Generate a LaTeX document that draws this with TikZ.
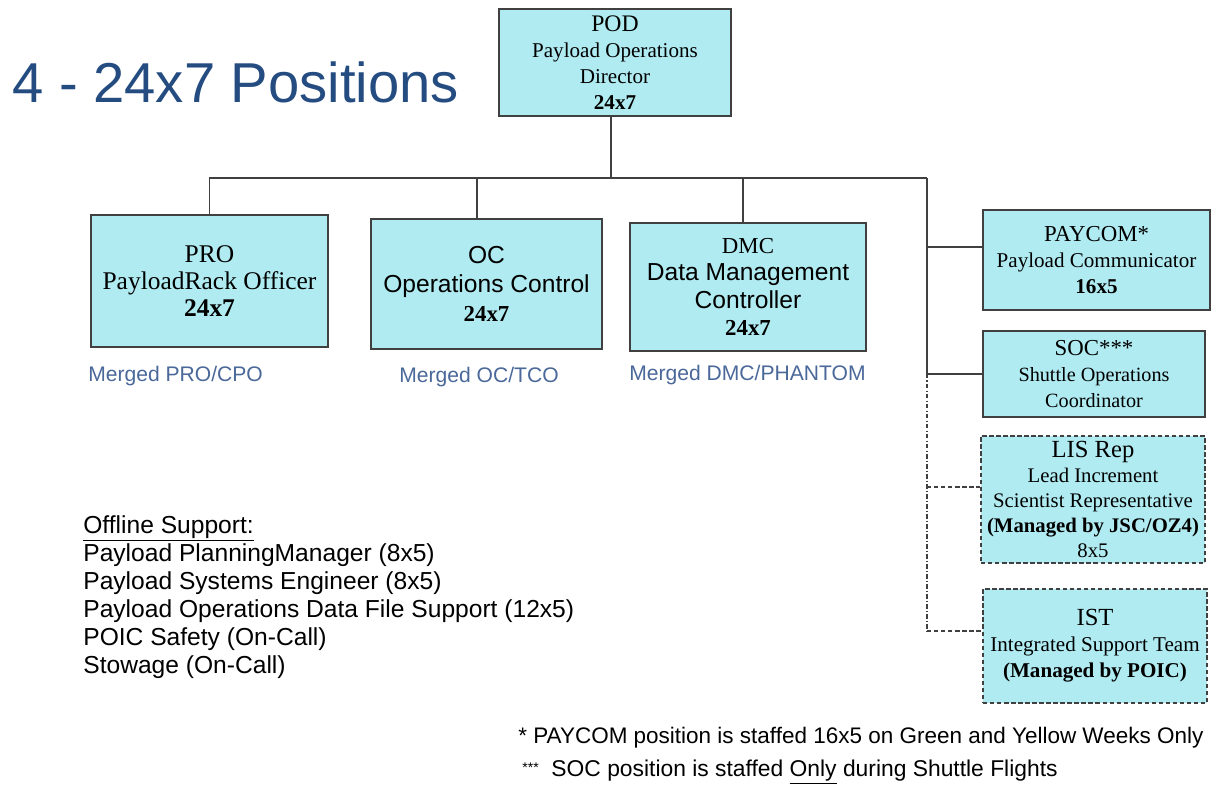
\documentclass[tikz,border=0pt]{standalone}
\usepackage{fontspec}
\setmainfont{Liberation Serif}
\setsansfont{Liberation Sans}
\usepackage{xcolor}
\definecolor{boxcyan}{HTML}{B0EBF1}
\definecolor{titleblue}{HTML}{244C80}
\definecolor{mergeblue}{HTML}{4A6899}
\definecolor{linegrey}{HTML}{404040}
\newcommand{\fs}[2]{\fontsize{#1}{#2}\selectfont}

\begin{document}
\begin{tikzpicture}[x=0.02cm,y=-0.02cm,
  posbox/.style={draw=linegrey, line width=0.8pt, fill=boxcyan, align=center, inner sep=1pt},
  offbox/.style={posbox, dash pattern=on 2.5pt off 1.5pt},
  tree/.style={draw=linegrey, line width=0.8pt},
  mergednote/.style={text=mergeblue, inner sep=0pt, font=\sffamily\fs{12}{13}}]
\useasboundingbox (0,0) rectangle (1214,786);
% title
\node[anchor=west, text=titleblue, font=\sffamily\fs{32}{36}] (title) at (6,82) {4 - 24x7 Positions};
% director
\node[posbox, minimum width=4.64cm, minimum height=2.14cm, font=\fs{12}{14.7}] (pod) at (615,62.5)
  {{\fs{13.5}{14.7}POD}\\Payload Operations\\Director\\\textbf{24x7}};
% 24x7 positions
\node[posbox, minimum width=4.74cm, minimum height=2.64cm, font=\fs{14.5}{15.6}] (pro) at (209.5,281)
  {PRO\\PayloadRack Officer\\\textbf{24x7}};
\node[posbox, minimum width=4.62cm, minimum height=2.6cm, font=\fs{13}{16.5}] (oc) at (486.5,284)
  {\sffamily\fs{14}{16.5}OC\\\sffamily\fs{14}{16.5}Operations Control\\\textbf{24x7}};
\node[posbox, minimum width=4.72cm, minimum height=2.56cm, font=\fs{13}{15.6}] (dmc) at (748,287)
  {DMC\\\sffamily\fs{14}{15.6}Data Management\\\sffamily\fs{14}{15.6}Controller\\\textbf{24x7}};
\node[mergednote, anchor=west] (pronote) at (88,376) {Merged PRO/CPO};
\node[mergednote, anchor=west] (ocnote) at (399,377) {Merged OC/TCO};
\node[mergednote, anchor=west] (dmcnote) at (629,375) {Merged DMC/PHANTOM};
% other positions
\node[posbox, minimum width=4.54cm, minimum height=2.0cm, font=\fs{12}{14.6}] (paycom) at (1096.5,260)
  {{\fs{13}{14.6}PAYCOM*}\\Payload Communicator\\\textbf{16x5}};
\node[posbox, minimum width=4.44cm, minimum height=1.72cm, font=\fs{11.5}{15}] (soc) at (1094,374)
  {{\fs{13}{15}SOC***}\\Shuttle Operations\\Coordinator};
\node[offbox, minimum width=4.48cm, minimum height=2.54cm, font=\fs{11.8}{14.3}] (lis) at (1093,499.5)
  {{\fs{14}{14.3}LIS Rep}\\Lead Increment\\Scientist Representative\\\textbf{(Managed by JSC/OZ4)}\\8x5};
\node[offbox, minimum width=4.48cm, minimum height=2.28cm, font=\fs{12}{14.8}] (ist) at (1095,646)
  {{\fs{14}{14.8}IST}\\Integrated Support Team\\\textbf{(Managed by POIC)}};
% tree
\coordinate (busL) at (209,178);
\coordinate (busR) at (927,178);
\coordinate (podtap) at ([xshift=-0.08cm]pod.south);
\coordinate (octap) at ([xshift=-0.19cm]oc.north);
\coordinate (dmctap) at ([xshift=-0.1cm]dmc.north);
\coordinate (paycomin) at ([yshift=0.26cm]paycom.west);
\coordinate (lisin) at ([yshift=0.25cm]lis.west);
\coordinate (istin) at ([yshift=0.3cm]ist.west);
\draw[tree] (podtap) -- (podtap |- busL);
\draw[tree] (busL) -- (busR);
\draw[tree] (pro.north) -- (pro.north |- busL);
\draw[tree] (octap) -- (octap |- busL);
\draw[tree] (dmctap) -- (dmctap |- busL);
\draw[tree] (busR) -- (busR |- soc.west);
\draw[tree] (busR |- paycomin) -- (paycomin);
\draw[tree] (busR |- soc.west) -- (soc.west);
\draw[tree, dash pattern=on 2.5pt off 1.2pt on 0.8pt off 1.2pt] (busR |- soc.west) -- (busR |- istin);
\draw[tree, dash pattern=on 2.5pt off 1.5pt] (busR |- lisin) -- (lisin);
\draw[tree, dash pattern=on 2.5pt off 1.5pt] (busR |- istin) -- (istin);
% offline support
\node[anchor=north west, align=left, inner sep=0pt, font=\sffamily\fs{14}{16}] (offline) at (83,515)
  {\underline{Offline Support:}\\
   Payload PlanningManager (8x5)\\
   Payload Systems Engineer (8x5)\\
   Payload Operations Data File Support (12x5)\\
   POIC Safety (On-Call)\\
   Stowage (On-Call)};
% footnotes
\node[anchor=west, inner sep=0pt, font=\sffamily\fs{12.8}{14}] (paycomnote) at (518,738)
  {* PAYCOM position is staffed 16x5 on Green and Yellow Weeks Only};
\node[anchor=west, inner sep=0pt, font=\sffamily\fs{13}{14}] (socnote) at (522,772)
  {{\fs{8}{8}\raisebox{0.5ex}{***}}\ \ SOC position is staffed \underline{Only} during Shuttle Flights};
\end{tikzpicture}
\end{document}
